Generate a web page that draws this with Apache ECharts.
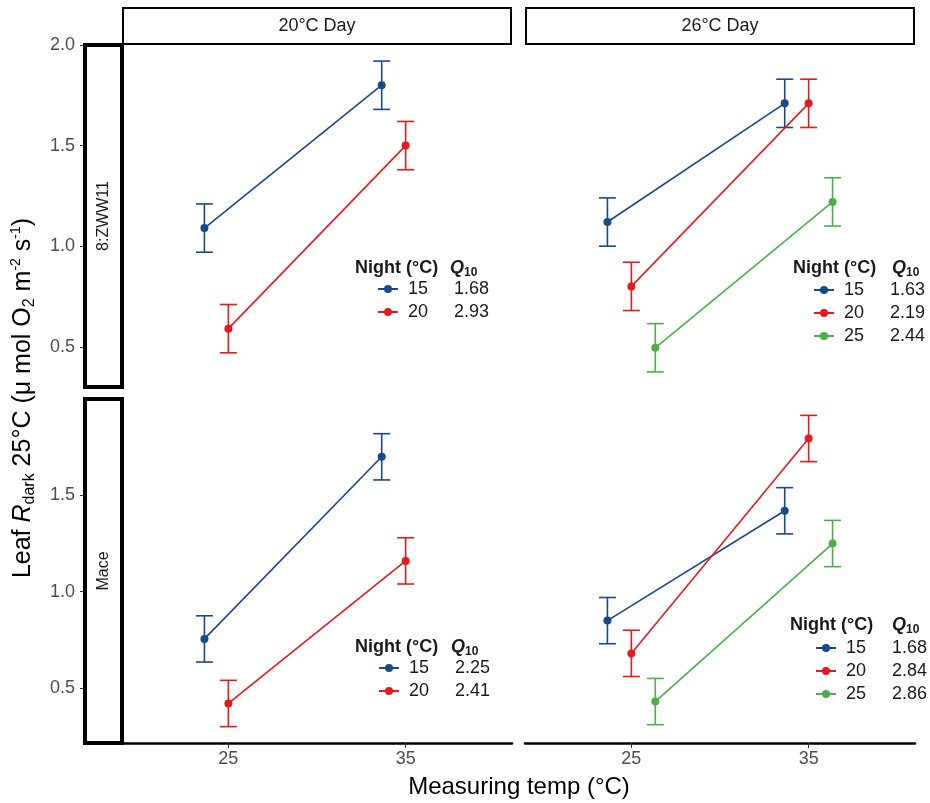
<!DOCTYPE html>
<html>
<head>
<meta charset="utf-8">
<script src="https://cdn.jsdelivr.net/npm/echarts@6/dist/echarts.min.js"></script>
<style>
  html, body { margin: 0; padding: 0; background: #fff; }
  #chart { width: 930px; height: 803px; }
</style>
</head>
<body>
<div id="chart"></div>
<script>
// ---------------- DATA ----------------
const measuringTemps = [25, 35];
const nightLevels = ['15', '20', '25'];
const dayLabels = ['20°C Day', '26°C Day'];
const cultivarLabels = ['8:ZWW11', 'Mace'];
const xTickValues = [25, 35];
const yTicksTop = [0.5, 1.0, 1.5, 2.0];
const yTicksBottom = [0.5, 1.0, 1.5];

// Means [at 25, at 35]
const zww20Day_n15 = [1.09, 1.80];
const zww20Day_n20 = [0.59, 1.50];
const zww26Day_n15 = [1.12, 1.71];
const zww26Day_n20 = [0.80, 1.71];
const zww26Day_n25 = [0.495, 1.22];
const mace20Day_n15 = [0.755, 1.70];
const mace20Day_n20 = [0.42, 1.16];
const mace26Day_n15 = [0.85, 1.42];
const mace26Day_n20 = [0.68, 1.795];
const mace26Day_n25 = [0.43, 1.25];

// Error (half-width of bars) [at 25, at 35]
const zww20Day_n15_err = [0.12, 0.12];
const zww20Day_n20_err = [0.12, 0.12];
const zww26Day_n15_err = [0.12, 0.12];
const zww26Day_n20_err = [0.12, 0.12];
const zww26Day_n25_err = [0.12, 0.12];
const mace20Day_n15_err = [0.12, 0.12];
const mace20Day_n20_err = [0.12, 0.12];
const mace26Day_n15_err = [0.12, 0.12];
const mace26Day_n20_err = [0.12, 0.12];
const mace26Day_n25_err = [0.12, 0.12];

// Q10 per panel per night level
const q10_zww20Day = ['1.68', '2.93'];
const q10_zww26Day = ['1.63', '2.19', '2.44'];
const q10_mace20Day = ['2.25', '2.41'];
const q10_mace26Day = ['1.68', '2.84', '2.86'];

// ---------------- STYLE / LAYOUT ----------------
const FONT = '"Liberation Sans", Arial, Helvetica, sans-serif';
const colors = ['#17498c', '#e41a1c', '#4daf4a'];
const dodge = 1.35;      // x-offset between night groups (data units)
const capHalf = 0.48;    // error-bar cap half width (data units)

const panels = [
  { grid: { left: 122, top: 45, width: 390, height: 342 }, ymin: 0.3, ymax: 2.0, yTicks: yTicksTop, showY: true, showX: false,
    means: [zww20Day_n15, zww20Day_n20], errs: [zww20Day_n15_err, zww20Day_n20_err], q10: q10_zww20Day,
    leg: { iconX: 377, rowTop: 280, titleX: 355, titleY: 268, qX: 450 } },
  { grid: { left: 525, top: 45, width: 390, height: 342 }, ymin: 0.3, ymax: 2.0, yTicks: yTicksTop, showY: false, showX: false,
    means: [zww26Day_n15, zww26Day_n20, zww26Day_n25], errs: [zww26Day_n15_err, zww26Day_n20_err, zww26Day_n25_err], q10: q10_zww26Day,
    leg: { iconX: 813, rowTop: 281, titleX: 793, titleY: 268, qX: 892 } },
  { grid: { left: 122, top: 399, width: 390, height: 344 }, ymin: 0.215, ymax: 2.0, yTicks: yTicksBottom, showY: true, showX: true,
    means: [mace20Day_n15, mace20Day_n20], errs: [mace20Day_n15_err, mace20Day_n20_err], q10: q10_mace20Day,
    leg: { iconX: 378, rowTop: 659, titleX: 355, titleY: 647, qX: 451 } },
  { grid: { left: 525, top: 399, width: 390, height: 344 }, ymin: 0.215, ymax: 2.0, yTicks: yTicksBottom, showY: false, showX: true,
    means: [mace26Day_n15, mace26Day_n20, mace26Day_n25], errs: [mace26Day_n15_err, mace26Day_n20_err, mace26Day_n25_err], q10: q10_mace26Day,
    leg: { iconX: 815, rowTop: 639, titleX: 790, titleY: 625, qX: 892 } }
];

const grids = [], xAxes = [], yAxes = [], series = [], legends = [], graphics = [];

panels.forEach((p, pi) => {
  grids.push(Object.assign({ containLabel: false }, p.grid));
  xAxes.push({
    type: 'value', gridIndex: pi, min: 19, max: 41, show: true,
    splitLine: { show: false },
    axisLine: { show: p.showX, lineStyle: { color: '#000', width: 2.5 } },
    axisTick: { show: p.showX, length: 5, customValues: xTickValues, lineStyle: { color: '#333', width: 1 } },
    axisLabel: { show: p.showX, customValues: xTickValues, color: '#4d4d4d', fontSize: 18, fontFamily: FONT, margin: 7 }
  });
  yAxes.push({
    type: 'value', gridIndex: pi, min: p.ymin, max: p.ymax, show: p.showY, offset: 38,
    splitLine: { show: false },
    axisLine: { show: false },
    axisTick: { show: true, length: 4, customValues: p.yTicks, lineStyle: { color: '#333', width: 1 } },
    axisLabel: { customValues: p.yTicks, color: '#4d4d4d', fontSize: 18, fontFamily: FONT, margin: 9,
      formatter: v => v.toFixed(1) }
  });
  const nGroups = p.means.length;
  p.means.forEach((m, gi) => {
    const off = (gi - 1) * dodge;
    const col = colors[gi];
    series.push({
      type: 'line', name: nightLevels[gi], xAxisIndex: pi, yAxisIndex: pi,
      data: measuringTemps.map((t, k) => [t + off, m[k]]),
      symbol: 'circle', symbolSize: 8, showSymbol: true,
      itemStyle: { color: col }, lineStyle: { color: col, width: 1.6 },
      emphasis: { disabled: true }, animation: false, z: 4
    });
    series.push({
      type: 'custom', name: 'err' + pi + '_' + gi, xAxisIndex: pi, yAxisIndex: pi,
      data: measuringTemps.map((t, k) => [t + off, m[k] - p.errs[gi][k], m[k] + p.errs[gi][k]]),
      encode: { x: 0, y: [1, 2] },
      renderItem: (params, api) => {
        const x = api.value(0), lo = api.value(1), hi = api.value(2);
        const a = api.coord([x, hi]), b = api.coord([x, lo]);
        const l = api.coord([x - capHalf, hi]), r = api.coord([x + capHalf, hi]);
        const hw = (r[0] - l[0]) / 2;
        const st = { stroke: col, lineWidth: 1.6 };
        return { type: 'group', children: [
          { type: 'line', shape: { x1: a[0], y1: a[1], x2: b[0], y2: b[1] }, style: st },
          { type: 'line', shape: { x1: a[0] - hw, y1: a[1], x2: a[0] + hw, y2: a[1] }, style: st },
          { type: 'line', shape: { x1: b[0] - hw, y1: b[1], x2: b[0] + hw, y2: b[1] }, style: st }
        ]};
      },
      animation: false, z: 3, silent: true
    });
  });
  const q = p.q10;
  legends.push({
    left: p.leg.iconX, top: p.leg.rowTop, orient: 'vertical', padding: 0,
    itemWidth: 20, itemHeight: 10, itemGap: 5, selectedMode: false,
    data: nightLevels.slice(0, nGroups),
    textStyle: { fontSize: 18, lineHeight: 18, color: '#1a1a1a', fontFamily: FONT,
      rich: { a: { width: 30, align: 'right', fontSize: 18, fontFamily: FONT, color: '#1a1a1a' },
              b: { fontSize: 18, fontFamily: FONT, color: '#1a1a1a', padding: [0, 0, 0, 21] } } },
    formatter: name => '{a|' + name + '}{b|' + q[nightLevels.indexOf(name)] + '}'
  });
  graphics.push({ type: 'text', x: p.leg.titleX, y: p.leg.titleY, z: 10,
    style: { text: 'Night (°C)', fontSize: 18, fontWeight: 'bold', fontFamily: FONT, fill: '#1a1a1a', align: 'left', verticalAlign: 'middle' } });
  graphics.push({ type: 'text', x: p.leg.qX, y: p.leg.titleY, z: 10,
    style: { text: '{q|Q}{s|10}', fill: '#1a1a1a', align: 'left', verticalAlign: 'middle',
      rich: { q: { fontSize: 18, fontWeight: 'bold', fontStyle: 'italic', fontFamily: FONT, fill: '#1a1a1a' },
              s: { fontSize: 12, fontWeight: 'bold', fontFamily: FONT, fill: '#1a1a1a', padding: [9, 0, 0, 0] } } } });
});

// Strips (top: day; left: cultivar)
const topStrips = [{ x: 123, w: 388 }, { x: 526, w: 388 }];
topStrips.forEach((s, i) => {
  graphics.push({ type: 'rect', shape: { x: s.x, y: 8, width: s.w, height: 36 },
    style: { fill: '#fff', stroke: '#000', lineWidth: 2 }, z: 5 });
  graphics.push({ type: 'text', x: s.x + s.w / 2, y: 26, z: 6,
    style: { text: dayLabels[i], fontSize: 18, fontFamily: FONT, fill: '#1a1a1a', align: 'center', verticalAlign: 'middle' } });
});
const leftStrips = [{ y: 45, h: 342 }, { y: 399, h: 344 }];
leftStrips.forEach((s, i) => {
  graphics.push({ type: 'rect', shape: { x: 85, y: s.y, width: 37, height: s.h },
    style: { fill: '#fff', stroke: '#000', lineWidth: 4 }, z: 5 });
  graphics.push({ type: 'text', x: 103.5, y: s.y + s.h / 2, rotation: Math.PI / 2, z: 6,
    style: { text: cultivarLabels[i], fontSize: 16, fontFamily: FONT, fill: '#1a1a1a', align: 'center', verticalAlign: 'middle' } });
});

// Axis titles
graphics.push({ type: 'text', x: 519, y: 787, z: 6,
  style: { text: 'Measuring temp (°C)', fontSize: 24, fontFamily: FONT, fill: '#000', align: 'center', verticalAlign: 'middle' } });
graphics.push({ type: 'text', x: 23, y: 398, rotation: Math.PI / 2, z: 6,
  style: { text: '{n|Leaf }{i|R}{sub|dark}{n| 25°C (μ mol O}{sub|2}{n| m}{sup|-2}{n| s}{sup|-1}{n|)}',
    align: 'center', verticalAlign: 'middle', fill: '#000',
    rich: {
      n: { fontSize: 25, fontFamily: FONT, fill: '#000' },
      i: { fontSize: 25, fontFamily: FONT, fontStyle: 'italic', fill: '#000' },
      sub: { fontSize: 16, fontFamily: FONT, fill: '#000', padding: [13, 0, 0, 0] },
      sup: { fontSize: 14, fontFamily: FONT, fill: '#000', padding: [0, 0, 13, 0] }
    } } });

const chart = echarts.init(document.getElementById('chart'), null, { renderer: 'canvas' });
chart.setOption({
  backgroundColor: '#fff',
  animation: false,
  textStyle: { fontFamily: FONT },
  grid: grids, xAxis: xAxes, yAxis: yAxes, series: series, legend: legends,
  graphic: graphics
});
</script>
</body>
</html>
